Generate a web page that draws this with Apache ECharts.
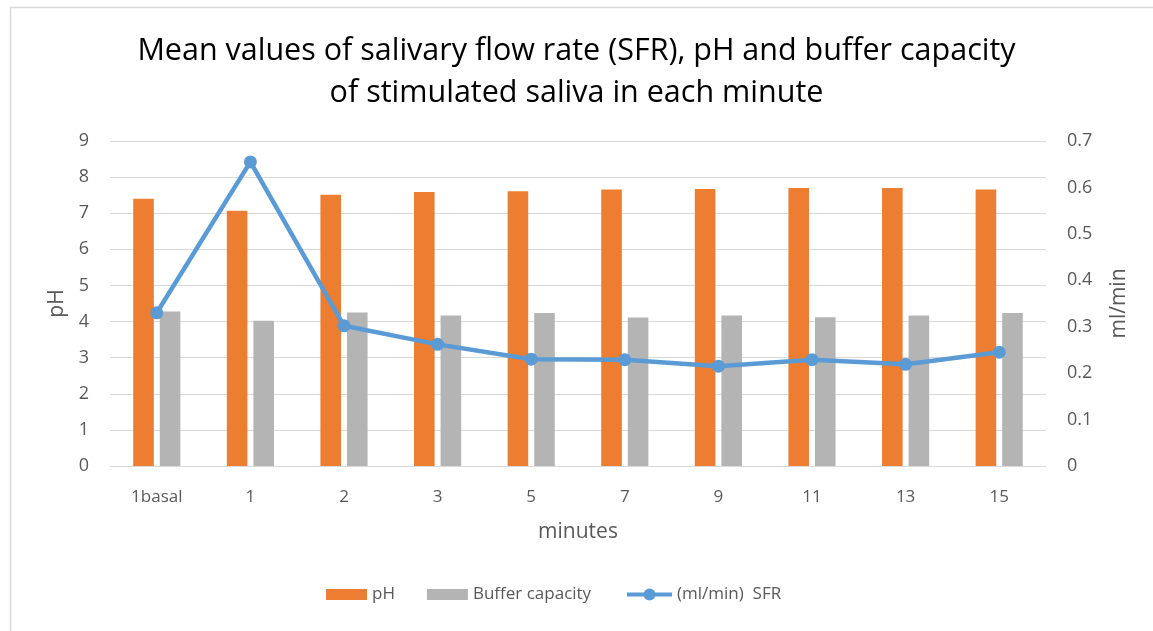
<!DOCTYPE html>
<html><head><meta charset="utf-8">
<script src="https://cdn.jsdelivr.net/npm/echarts@6/dist/echarts.min.js"></script>
<style>html,body{margin:0;padding:0;background:#fff}#c{width:1153px;height:631px}</style>
</head><body><div id="c"></div>
<script>
const categories = ['1basal','1','2','3','5','7','9','11','13','15'];
const phValues = [7.40, 7.07, 7.51, 7.59, 7.61, 7.66, 7.67, 7.70, 7.70, 7.66];
const bufferValues = [4.28, 4.02, 4.25, 4.17, 4.24, 4.11, 4.17, 4.12, 4.17, 4.24];
const sfrValues = [0.330, 0.655, 0.302, 0.262, 0.230, 0.229, 0.215, 0.229, 0.219, 0.245];
const leftTicks = {min: 0, max: 9, interval: 1};
const rightTicks = {min: 0, max: 0.7, interval: 0.1};

const font = "'Open Sans', sans-serif";
const grey = '#595959';
const chart = echarts.init(document.getElementById('c'));
chart.setOption({
  backgroundColor: '#fff',
  animation: false,
  textStyle: {fontFamily: font},
  graphic: [{type: 'rect', left: 8, top: 5, shape: {width: 1160, height: 640}, style: {fill: 'none', stroke: '#d9d9d9', lineWidth: 1.5}, silent: true}],
  title: {
    text: 'Mean values of salivary flow rate (SFR), pH and buffer capacity\nof stimulated saliva in each minute',
    left: 'center', top: 25,
    textStyle: {fontFamily: font, fontWeight: 'normal', fontSize: 30.5, color: '#000', lineHeight: 42}
  },
  legend: [{
    left: 321, top: 581, itemGap: 32, itemWidth: 41, itemHeight: 11, itemTextGap: 6,
    textStyle: {fontFamily: font, fontSize: 17, color: grey},
    data: [{name: 'pH', icon: 'rect'}, {name: 'Buffer capacity', icon: 'rect'}]
  }, {
    left: 620, top: 581, itemWidth: 45, itemHeight: 15, itemTextGap: 2,
    textStyle: {fontFamily: font, fontSize: 17, color: grey},
    data: [{name: '(ml/min)  SFR', lineStyle: {width: 4}}]
  }],
  grid: {left: 110, right: 107, top: 141, bottom: 165},
  xAxis: {
    type: 'category', data: categories,
    name: 'minutes', nameLocation: 'middle', nameGap: 56,
    nameTextStyle: {fontFamily: font, fontSize: 21, color: grey},
    axisLine: {lineStyle: {color: '#d9d9d9', width: 1}},
    axisTick: {show: false},
    axisLabel: {fontFamily: font, fontSize: 17, color: grey, margin: 23}
  },
  yAxis: [{
    type: 'value', min: leftTicks.min, max: leftTicks.max, interval: leftTicks.interval,
    name: 'pH', nameLocation: 'middle', nameGap: 37, nameRotate: 90,
    nameTextStyle: {fontFamily: font, fontSize: 21, color: grey},
    axisLine: {show: false}, axisTick: {show: false},
    axisLabel: {fontFamily: font, fontSize: 18, color: grey, margin: 21},
    splitLine: {lineStyle: {color: '#d9d9d9', width: 1}}
  }, {
    type: 'value', min: rightTicks.min, max: rightTicks.max, interval: rightTicks.interval,
    name: 'ml/min', nameLocation: 'middle', nameGap: 63, nameRotate: 90,
    nameTextStyle: {fontFamily: font, fontSize: 21, color: grey},
    axisLine: {show: false}, axisTick: {show: false},
    axisLabel: {fontFamily: font, fontSize: 18, color: grey, margin: 21},
    splitLine: {show: false}
  }],
  series: [{
    name: 'pH', type: 'bar', data: phValues, barWidth: '22%', barGap: '29%',
    itemStyle: {color: '#ED7D31'}
  }, {
    name: 'Buffer capacity', type: 'bar', data: bufferValues, barWidth: '22%',
    itemStyle: {color: '#B4B4B4'}
  }, {
    name: '(ml/min)  SFR', type: 'line', yAxisIndex: 1, data: sfrValues,
    symbol: 'circle', symbolSize: 13,
    lineStyle: {color: '#5B9BD5', width: 4.5},
    itemStyle: {color: '#5B9BD5'}
  }]
});
</script></body></html>
